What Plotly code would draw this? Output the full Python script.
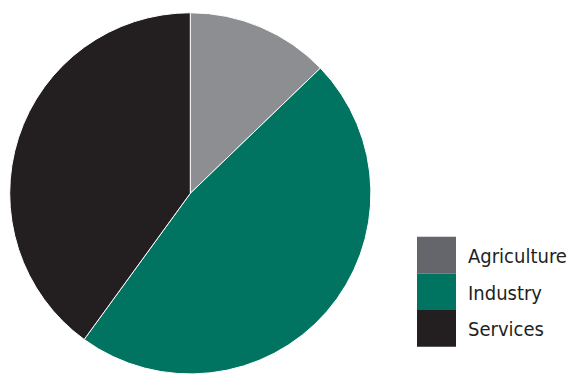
import plotly.graph_objects as go

# Sector shares of output (%)
sectors = ["Agriculture", "Industry", "Services"]
shares = [12.8, 47.2, 40.0]
slice_colors = ["#8d8e91", "#007461", "#231f20"]
key_colors = ["#64666b", "#007461", "#231f20"]

W, H = 571, 374

fig = go.Figure(
    go.Pie(
        labels=sectors,
        values=shares,
        marker=dict(colors=slice_colors, line=dict(color="white", width=1)),
        sort=False,
        direction="clockwise",
        rotation=0,
        textinfo="none",
        hoverinfo="label+percent",
        showlegend=False,
        domain=dict(x=[9.7 / W, 370.9 / W], y=[0, 1 - 12.7 / H]),
    )
)

# Hand-built key: stacked swatches with labels to the right
key_x0, key_x1 = 417, 456
key_top, row_h = 236.7, 36.7
shapes, annotations = [], []
for i, (name, col) in enumerate(zip(sectors, key_colors)):
    y0 = key_top + i * row_h
    y1 = y0 + row_h
    shapes.append(dict(
        type="rect", xref="paper", yref="paper",
        x0=key_x0 / W, x1=key_x1 / W,
        y0=1 - y1 / H, y1=1 - y0 / H,
        fillcolor=col, line=dict(width=0),
    ))
    annotations.append(dict(
        xref="paper", yref="paper",
        x=466 / W, y=1 - (y0 + row_h / 2 + 1) / H,
        xanchor="left", yanchor="middle",
        text=name, showarrow=False,
        font=dict(family="DejaVu Sans Condensed, Liberation Sans Narrow, Arial", size=20, color="#231f20"),
    ))

fig.update_layout(
    width=W, height=H,
    margin=dict(l=0, r=0, t=0, b=0),
    paper_bgcolor="white",
    plot_bgcolor="white",
    shapes=shapes,
    annotations=annotations,
)

fig.write_html("out.html")
